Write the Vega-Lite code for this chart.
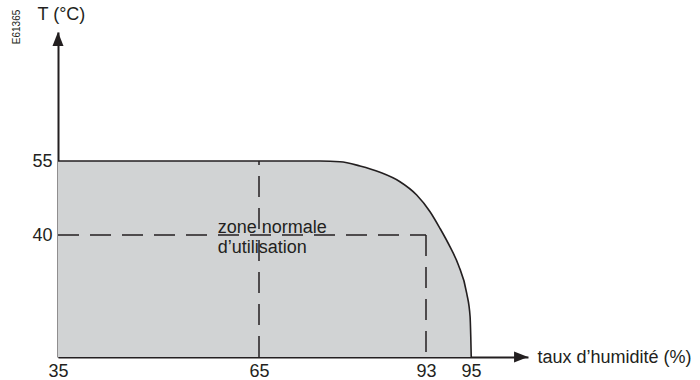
{
  "$schema": "https://vega.github.io/schema/vega-lite/v6.json",
  "width": 470,
  "height": 325,
  "autosize": {"type": "none"},
  "padding": {"left": 58, "top": 32, "right": 172, "bottom": 23},
  "background": "white",
  "config": {
    "view": {"stroke": null},
    "font": "Liberation Sans",
    "axis": {
      "grid": false,
      "ticks": false,
      "domainColor": "#231f20",
      "domainWidth": 2,
      "labelFont": "Liberation Sans",
      "labelFontSize": 18,
      "labelColor": "#231f20",
      "titleFont": "Liberation Sans",
      "titleFontSize": 18,
      "titleFontWeight": "normal",
      "titleColor": "#231f20",
      "zindex": 1
    }
  },
  "datasets": {
    "curve": [
      {"x": 35, "y": 55},
      {"x": 75.23, "y": 55},
      {"x": 78.58, "y": 54.86},
      {"x": 81.93, "y": 53.99},
      {"x": 85.29, "y": 52.71},
      {"x": 88.64, "y": 50.8},
      {"x": 91.44, "y": 48.11},
      {"x": 93.18, "y": 44.72},
      {"x": 93.62, "y": 41.36},
      {"x": 94.07, "y": 39.51},
      {"x": 94.44, "y": 38.77},
      {"x": 94.81, "y": 37.61},
      {"x": 94.96, "y": 36.65},
      {"x": 94.99, "y": 35.83},
      {"x": 95.02, "y": 35}
    ],
    "rules": [
      {"x": 35, "x2": 93, "y": 40, "y2": 40},
      {"x": 65, "x2": 65, "y": 35, "y2": 55},
      {"x": 93, "x2": 93, "y": 40, "y2": 35}
    ],
    "labels": [
      {"x": 58.85, "y": 40.4, "label": "zone normale"},
      {"x": 58.85, "y": 39.26, "label": "d’utilisation"}
    ],
    "code": [
      {"x": 28.9, "y": 80.97, "label": "E61365"}
    ],
    "arrows": [
      {"x": 35, "y": 78.64, "dir": "up"},
      {"x": 99.39, "y": 35, "dir": "right"}
    ]
  },
  "encoding": {
    "x": {
      "field": "x",
      "type": "quantitative",
      "scale": {"type": "linear", "domain": [35, 65, 93, 95, 100], "range": [0, 201, 368, 413, 470], "nice": false, "zero": false},
      "axis": {
        "values": [35, 65, 93, 95],
        "title": "taux d’humidité (%)",
        "titleX": 479,
        "titleY": 0,
        "titleAlign": "left",
        "titleBaseline": "middle",
        "titleAngle": 0,
        "labelPadding": 5,
        "labelFlush": false,
        "labelOverlap": false,
        "labelBound": false
      }
    },
    "y": {
      "field": "y",
      "type": "quantitative",
      "scale": {"type": "linear", "domain": [35, 40, 55, 80], "range": [325, 203, 129, 0], "nice": false, "zero": false},
      "axis": {
        "values": [40, 55],
        "title": "T (°C)",
        "titleX": -21,
        "titleY": -13,
        "titleAlign": "left",
        "titleBaseline": "alphabetic",
        "titleAngle": 0,
        "labelPadding": 6,
        "labelBaseline": "middle",
        "labelOverlap": false,
        "labelBound": false
      }
    }
  },
  "layer": [
    {
      "data": {"name": "curve"},
      "mark": {"type": "area", "interpolate": "monotone", "color": "#d1d3d4"},
      "encoding": {"y2": {"datum": 35}}
    },
    {
      "data": {"name": "rules"},
      "mark": {"type": "rule", "strokeDash": [21, 11], "color": "#231f20", "strokeWidth": 1.5},
      "encoding": {"x2": {"field": "x2"}, "y2": {"field": "y2"}}
    },
    {
      "data": {"name": "curve"},
      "mark": {"type": "line", "interpolate": "monotone", "color": "#231f20", "strokeWidth": 1.6}
    },
    {
      "data": {"name": "labels"},
      "mark": {"type": "text", "align": "left", "baseline": "alphabetic", "fontSize": 18, "color": "#231f20", "font": "Liberation Sans"},
      "encoding": {"text": {"field": "label"}}
    },
    {
      "data": {"name": "code"},
      "mark": {"type": "text", "align": "center", "baseline": "middle", "angle": 270, "fontSize": 10, "color": "#231f20", "font": "Liberation Sans"},
      "encoding": {"text": {"field": "label"}}
    },
    {
      "data": {"name": "arrows"},
      "mark": {"type": "point", "filled": true, "opacity": 1, "color": "#231f20", "size": 196},
      "encoding": {
        "shape": {
          "field": "dir",
          "type": "nominal",
          "scale": {"domain": ["up", "right"], "range": ["M0,-1L0.786,1L-0.786,1Z", "M1,0L-1,0.786L-1,-0.786Z"]},
          "legend": null
        }
      }
    }
  ]
}
